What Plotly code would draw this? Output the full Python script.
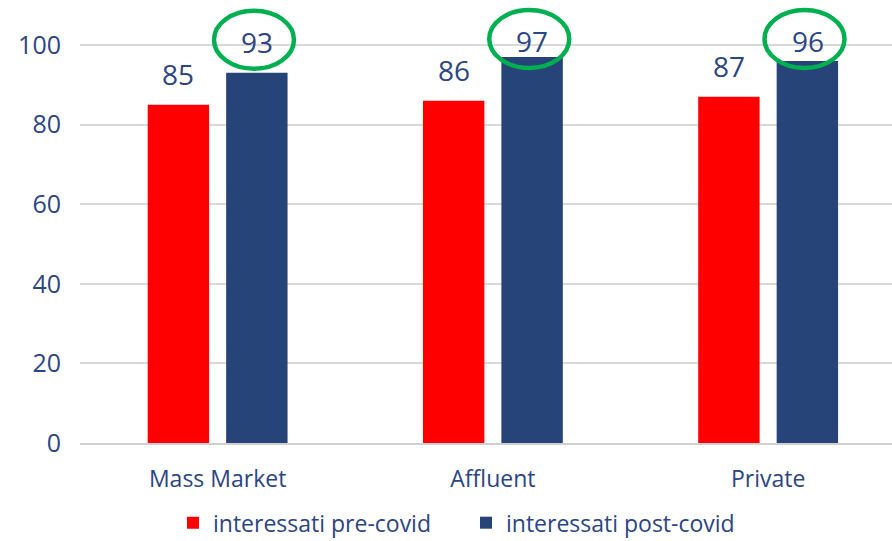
import plotly.graph_objects as go

categories = ["Mass Market", "Affluent", "Private"]
pre_covid = [85, 86, 87]
post_covid = [93, 97, 96]
series_names = ["interessati pre-covid", "interessati post-covid"]
y_ticks = [0, 20, 40, 60, 80, 100]

RED = "#FF0000"
BLUE = "#264478"
TEXT = "#2C4584"
GREEN = "#00B050"
FONT = "Open Sans"

fig = go.Figure()
fig.add_trace(go.Bar(x=categories, y=pre_covid, name=series_names[0],
                     marker=dict(color=RED, line=dict(width=0))))
fig.add_trace(go.Bar(x=categories, y=post_covid, name=series_names[1],
                     marker=dict(color=BLUE, line=dict(width=0))))

bar_off = 0.143  # half-distance between the two bar centres, in category units
annotations = []
shapes = []
for i, cat in enumerate(categories):
    v1 = pre_covid[i]
    annotations.append(dict(x=i - bar_off, y=v1 + 7.8, xref="x", yref="y",
                            text=str(v1), showarrow=False, yanchor="middle",
                            font=dict(size=28, color=TEXT, family=FONT)))
    v2 = post_covid[i]
    ly = min(v2 + 7.8, 101)
    annotations.append(dict(x=i + bar_off, y=ly, xref="x", yref="y",
                            text=str(v2), showarrow=False, yanchor="middle",
                            font=dict(size=28, color=TEXT, family=FONT)))
    shapes.append(dict(type="circle", xref="x", yref="y",
                       xsizemode="pixel", ysizemode="pixel",
                       xanchor=i + bar_off, yanchor=ly,
                       x0=-43, x1=37, y0=-27, y1=31,
                       line=dict(color=GREEN, width=4.5),
                       fillcolor="rgba(0,0,0,0)"))

fig.update_layout(
    width=892, height=541,
    margin=dict(l=80, r=0, t=0, b=98, autoexpand=False),
    paper_bgcolor="white", plot_bgcolor="white",
    barmode="group", bargap=0.43, bargroupgap=0.217,
    font=dict(family=FONT, color=TEXT, size=23),
    xaxis=dict(type="category", range=[-0.5, 2.45], showgrid=False,
               showline=True, linecolor="#D0D0D0", linewidth=2,
               ticks="", ticklabelstandoff=14, automargin=False,
               tickfont=dict(size=23, color=TEXT, family=FONT)),
    yaxis=dict(range=[0, 111.3], tickvals=y_ticks, showgrid=True,
               gridcolor="#D9D9D9", gridwidth=1.5, zeroline=False,
               showline=False, ticks="", ticklabelstandoff=18,
               automargin=False,
               tickfont=dict(size=25, color=TEXT, family=FONT)),
    legend=dict(orientation="h", x=0.1145, xanchor="left", y=-0.18,
                yanchor="middle", font=dict(size=23, color=TEXT, family=FONT),
                itemwidth=30, entrywidth=248, traceorder="normal"),
    annotations=annotations,
    shapes=shapes,
)

fig.write_html("out.html",
               config={"displayModeBar": False},
               post_script="document.body.style.margin='0px';"
                           "document.body.style.overflow='hidden';")
